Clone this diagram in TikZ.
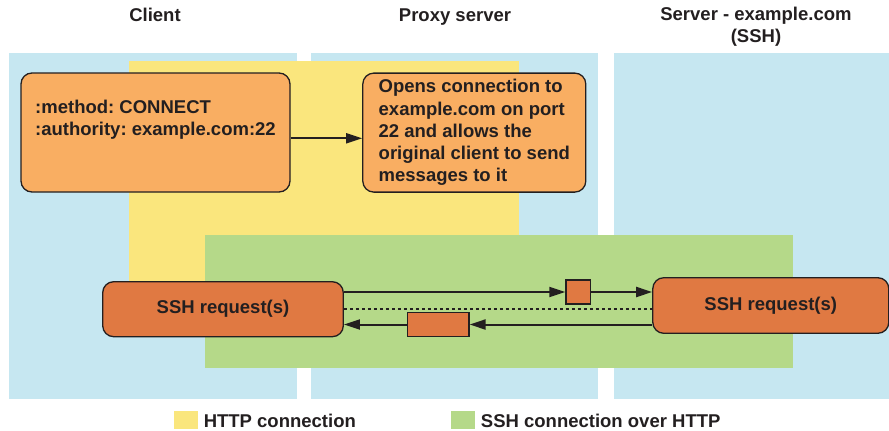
\documentclass[tikz,border=0pt]{standalone}
\usepackage{fontspec}
\setmainfont{Liberation Sans}
\usepackage{tikz}
\usetikzlibrary{arrows.meta}
\definecolor{colblue}{RGB}{198,231,241}
\definecolor{httpyellow}{RGB}{250,230,125}
\definecolor{sshgreen}{RGB}{181,217,137}
\definecolor{reqorange}{RGB}{249,174,98}
\definecolor{sshorange}{RGB}{224,121,66}
\definecolor{inkgray}{RGB}{35,31,32}
\frenchspacing

\begin{document}
\begin{tikzpicture}[x=1pt,y=-1pt,every node/.style={text=inkgray,font=\fontsize{18.5}{22.2}\selectfont\bfseries},
box/.style n args={4}{fill=#1,draw=inkgray,line width=1.3pt,rounded corners=#2,minimum width=#3pt,minimum height=#4pt,inner sep=0pt},
key/.style={fill=#1,minimum width=23.7pt,minimum height=18.5pt,inner sep=0pt},
arr/.style={draw=inkgray,line width=2pt,-{Triangle[length=16pt,width=10pt]}}]
\useasboundingbox (0,0) rectangle (889,431);
\foreach \xa/\xb in {9/297,311/598,614/889} {
   \fill[colblue] (\xa,53) rectangle (\xb,399);
}
\fill[httpyellow] (129,61) rectangle (519,310);
\fill[sshgreen] (205,235) rectangle (793,368);
\node[anchor=base] (client) at (155,21) {Client};
\node[anchor=base] (proxyserver) at (455,21) {Proxy server};
\node[anchor=base,align=center] (server) at (756,42.5) {Server - example.com\\(SSH)};
\node[box={reqorange}{11pt}{269}{119},align=left] (connect) at (155.5,132.5)
   {:method: CONNECT\\:authority: example.com:22\\\strut};
\node[box={reqorange}{11pt}{223}{119},align=left] (proxy) at (474.3,132.6)
   {Opens connection to\\example.com on port\\22 and allows the\\original client to send\\messages to it};
\draw[arr] ([yshift=-5.8pt]connect.east) -- ([yshift=-5.8pt]connect.east -| proxy.west);
\node[box={sshorange}{11pt}{240.6}{55}] (sshL) at (223,309.2) {SSH request(s)};
\node[box={sshorange}{11pt}{236}{55.6}] (sshR) at (770.8,305.5) {SSH request(s)};
\node[box={sshorange}{0pt}{24.7}{24}] (msgA) at (578.3,292) {};
\node[box={sshorange}{0pt}{61.3}{24.4}] (msgB) at (438.3,324.5) {};
\draw[arr] (sshL.east |- msgA) -- (msgA.west);
\draw[arr] (msgA.east) -- (msgA -| sshR.west);
\draw[arr] (sshR.west |- msgB) -- (msgB.east);
\draw[arr] (msgB.west) -- (msgB -| sshL.east);
\draw[draw=inkgray,line width=1.5pt,dash pattern=on 3.5pt off 2.5pt] (sshL.east) -- (sshL.east -| sshR.west);
\node[key=httpyellow] (keyhttp) at (186,420) {};
\node[anchor=base west,inner sep=0pt] (keyhttptext) at ([xshift=5.5pt,yshift=1.7pt]keyhttp.south east) {HTTP connection};
\node[key=sshgreen] (keyssh) at (462.7,420) {};
\node[anchor=base west,inner sep=0pt] (keysshtext) at ([xshift=6pt,yshift=1.7pt]keyssh.south east) {SSH connection over HTTP};
\end{tikzpicture}
\end{document}
